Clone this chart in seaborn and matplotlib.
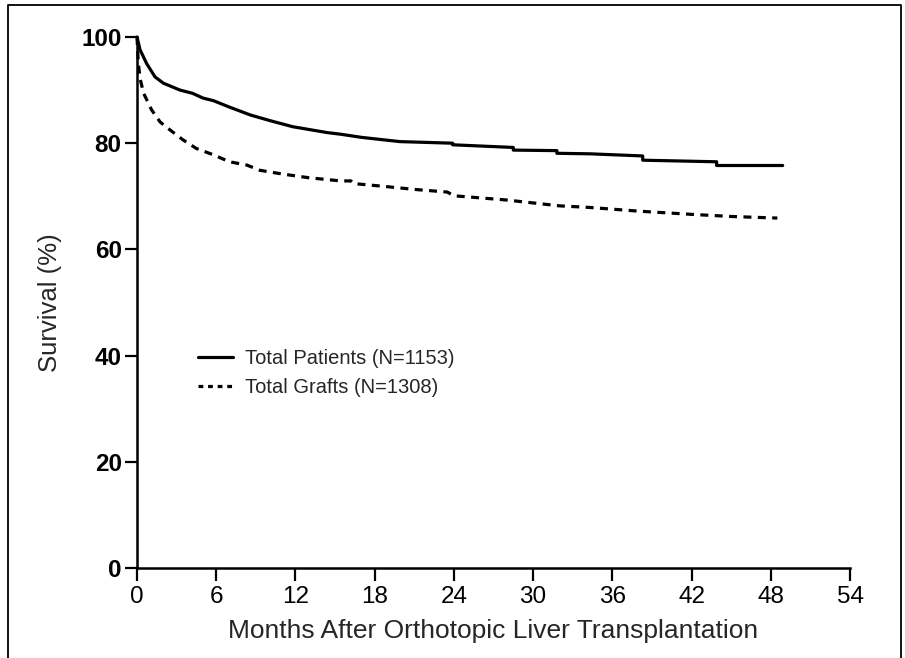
import numpy as np
import pandas as pd
import matplotlib
matplotlib.use("Agg")
import matplotlib.pyplot as plt
from matplotlib.lines import Line2D
import seaborn as sns

# values
patient_months = [0, 0.23, 0.73, 1.36, 2.0, 3.26, 4.2, 5.0, 5.8, 7.0, 8.6, 10.0, 11.8,
                  14.4, 15.4, 17.0, 19.9, 23.9, 23.9, 28.5, 28.5, 31.8, 31.8, 34.3,
                  38.3, 38.3, 43.9, 43.9, 48.9]
patient_surv = [100, 97.6, 95.0, 92.5, 91.3, 90.0, 89.4, 88.5, 88.0, 86.8, 85.3, 84.3, 83.1,
                82.0, 81.7, 81.1, 80.3, 80.0, 79.7, 79.2, 78.7, 78.6, 78.1, 78.0,
                77.6, 76.8, 76.5, 75.8, 75.8]

graft_months = [0, 0.1, 0.25, 0.5, 1.1, 1.75, 2.5, 3.5, 4.5, 5.8, 7.0, 8.3, 9.3, 11.0,
                13.0, 15.4, 16.2, 16.4, 19.0, 21.0, 23.5, 24.0, 28.0, 32.0, 34.3, 38.0,
                42.0, 45.0, 48.5]
graft_surv = [100, 95.0, 92.0, 89.4, 86.3, 84.0, 82.5, 80.6, 79.0, 77.8, 76.5, 75.9, 74.9, 74.2,
              73.5, 72.9, 72.9, 72.4, 71.8, 71.3, 70.8, 70.1, 69.3, 68.2, 67.9, 67.2,
              66.6, 66.2, 65.9]

x_ticks = [0, 6, 12, 18, 24, 30, 36, 42, 48, 54]
y_ticks = [0, 20, 40, 60, 80, 100]
labels = ["Total Patients (N=1153)", "Total Grafts (N=1308)"]

sns.set_style("ticks")
plt.rcParams['font.family'] = ['Liberation Sans', 'DejaVu Sans']
plt.rcParams['lines.dash_capstyle'] = 'butt'

fig = plt.figure(figsize=(9.05, 6.58), dpi=100)
ax = fig.add_axes([137 / 905, 1 - 568 / 658, 713 / 905, 531 / 658])

pat_df = pd.DataFrame({'month': patient_months, 'surv': patient_surv})
gr_df = pd.DataFrame({'month': graft_months, 'surv': graft_surv})

sns.lineplot(data=pat_df, x='month', y='surv', ax=ax, color='black', linewidth=2.3,
             estimator=None, sort=False, linestyle='-')
sns.lineplot(data=gr_df, x='month', y='surv', ax=ax, color='black', linewidth=2.3,
             estimator=None, sort=False, linestyle=(0, (2.5, 2.0)))

ax.set_xlim(0, 54)
ax.set_ylim(0, 100)
ax.set_xticks(x_ticks)
ax.set_yticks(y_ticks)
ax.tick_params(axis='both', direction='out', length=9, width=1.6, labelsize=17.5, colors='black')
ax.tick_params(axis='x', pad=4)
ax.tick_params(axis='y', pad=2)
for t in ax.get_yticklabels():
    t.set_fontweight('bold')
for s in ['top', 'right']:
    ax.spines[s].set_visible(False)
for s in ['left', 'bottom']:
    ax.spines[s].set_linewidth(1.8)
    ax.spines[s].set_color('black')
for ln in ax.lines:
    ln.set_clip_on(False)

ax.set_xlabel("Months After Orthotopic Liver Transplantation", fontsize=19, labelpad=8)
ax.set_ylabel("Survival (%)", fontsize=18.5, labelpad=14)

handles = [Line2D([], [], color='black', linewidth=2.3),
           Line2D([], [], color='black', linewidth=2.3, dashes=(1.5, 1.5),
                  dash_capstyle='butt')]
ax.legend(handles, labels, loc='upper left', bbox_to_anchor=(0.0856, 0.412),
          frameon=False, fontsize=14.5, handlelength=1.75, handletextpad=0.6,
          labelspacing=0.5, borderpad=0, borderaxespad=0)

# outer frame (open at the bottom like the scanned figure)
fx0, fx1, fy1 = 7.5 / 905, 900.5 / 905, 1 - 5 / 658
fig.add_artist(Line2D([fx0, fx0, fx1, fx1], [0, fy1, fy1, 0], color='black', linewidth=1.3,
                      transform=fig.transFigure))

fig.savefig("out.png", dpi=100)
